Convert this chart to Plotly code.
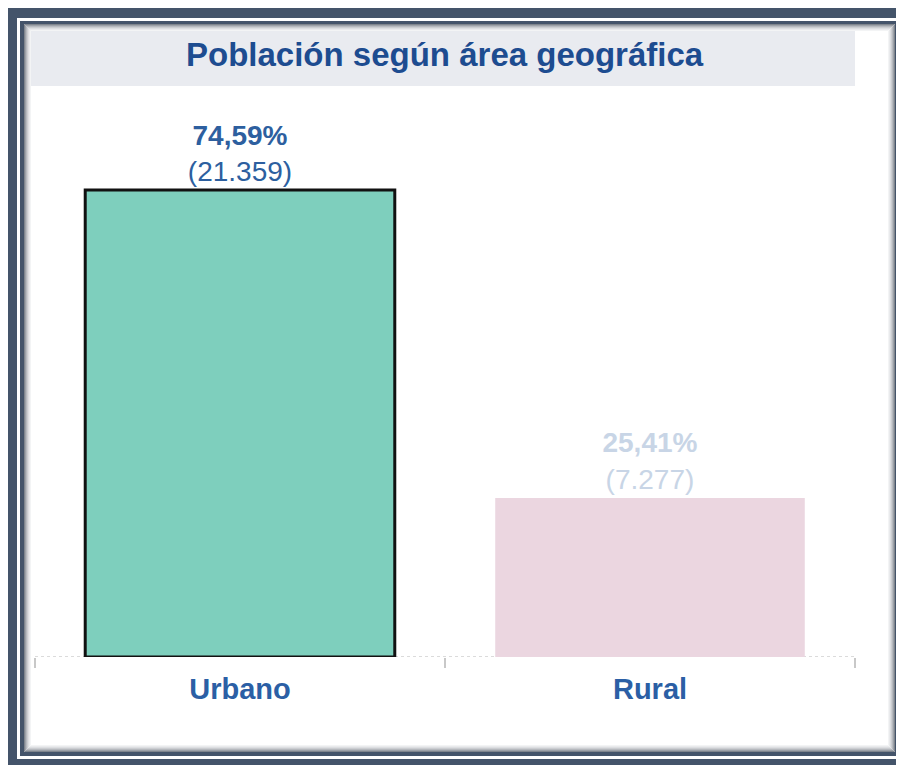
import plotly.graph_objects as go

# ---- data ----
categories = ["Urbano", "Rural"]
percentages = [74.59, 25.41]
counts = [21359, 7277]
bar_colors = ["#7ecfbd", "#ebd6e0"]
label_colors = ["#2d5f9f", "#c8d5e6"]
title_text = "Población según área geográfica"

# page has an 8px body margin; figure sized to fit inside the viewport
OFF = 8
W, H = 904 - OFF, 765 - OFF
def px(x):
    return (x - OFF) / W
def py(y):
    return 1 - (y - OFF) / H

FONT = "Liberation Sans, Arial, sans-serif"
DARK = "#44546a"

fig = go.Figure()
fig.add_trace(go.Bar(
    x=categories,
    y=percentages,
    customdata=counts,
    marker=dict(color=bar_colors,
                line=dict(color=["#111111", "rgba(0,0,0,0)"], width=[3, 0])),
    texttemplate="<b>%{y:.2f}%</b><br>(%{customdata:,})",
    textposition="outside",
    textfont=dict(family=FONT, size=28, color=label_colors),
    cliponaxis=False,
    hoverinfo="skip",
))

shapes = []
# outer frame
shapes.append(dict(type="rect", xref="paper", yref="paper", x0=px(7), x1=px(904), y0=py(765), y1=py(8),
                   fillcolor=DARK, line=dict(width=0), layer="below"))
shapes.append(dict(type="rect", xref="paper", yref="paper", x0=px(17), x1=px(900), y0=py(759), y1=py(18),
                   fillcolor="white", line=dict(width=0), layer="below"))
shapes.append(dict(type="rect", xref="paper", yref="paper", x0=px(20), x1=px(898), y0=py(756), y1=py(21),
                   fillcolor=DARK, line=dict(width=0), layer="below"))
shapes.append(dict(type="rect", xref="paper", yref="paper", x0=px(24), x1=px(895), y0=py(752), y1=py(24),
                   fillcolor="white", line=dict(width=0), layer="below"))
# title band
shapes.append(dict(type="rect", xref="paper", yref="paper", x0=px(24), x1=px(855), y0=py(86), y1=py(24),
                   fillcolor="#e9ebf0", line=dict(width=0), layer="below"))
# inner shadow gradient
grays = ["#7f858d", "#9ca1a8", "#b6b9be", "#cbcdd1", "#dcdee1", "#e9eaec", "#f3f4f5"]
for i, g in enumerate(grays):
    o = 24.5 + i
    shapes.append(dict(type="rect", xref="paper", yref="paper", x0=px(o), x1=px(895 - i - 0.5),
                       y0=py(752 - i - 0.5), y1=py(o), fillcolor="rgba(0,0,0,0)",
                       line=dict(color=g, width=1), layer="below"))
# dotted axis baseline
shapes.append(dict(type="line", xref="paper", yref="y", x0=px(35), x1=px(855), y0=0, y1=0,
                   line=dict(color="#cfcfcf", width=1.5, dash="dot"), layer="below"))

fig.update_layout(
    width=W, height=H,
    margin=dict(l=0, r=0, t=0, b=0),
    paper_bgcolor="white",
    plot_bgcolor="rgba(0,0,0,0)",
    separators=",.",
    showlegend=False,
    bargap=0.245,
    shapes=shapes,
    annotations=[dict(text="<b>" + title_text + "</b>", xref="paper", yref="paper",
                      x=px(445), y=py(55), xanchor="center", yanchor="middle", showarrow=False,
                      font=dict(family=FONT, size=33, color="#1d4c90"))],
    xaxis=dict(domain=[px(35), px(855)], showgrid=False, zeroline=False, showline=False,
               ticks="outside", tickson="boundaries", ticklen=10, tickcolor="#c8c8c8", tickwidth=1.5,
               ticklabelstandoff=12,
               tickfont=dict(family=FONT, size=29, color="#2b5fa5"),
               tickprefix="<b>", ticksuffix="</b>"),
    yaxis=dict(domain=[py(657), py(95)], range=[0, 89.76], showgrid=False, zeroline=False,
               showline=False, showticklabels=False, ticks=""),
)

fig.write_html("out.html")
